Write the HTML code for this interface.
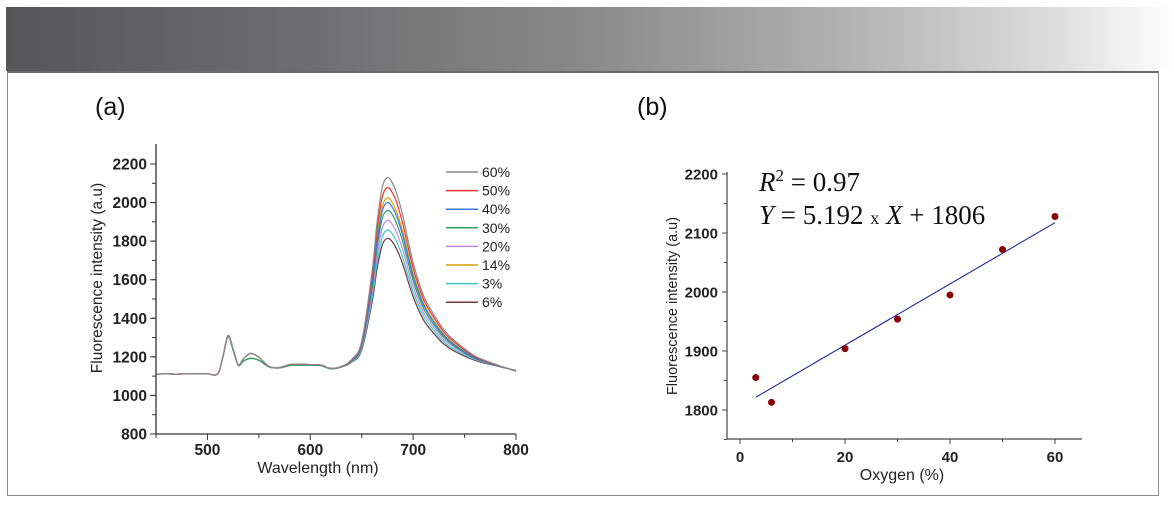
<!DOCTYPE html>
<html><head><meta charset="utf-8"><style>
body{margin:0;background:#fff;width:1174px;height:506px;overflow:hidden;font-family:"Liberation Sans",sans-serif}
#hdr{position:absolute;left:6px;top:7px;width:1168px;height:64px;background:linear-gradient(90deg,#565658 0%,#6d6d6f 25%,#8a8a8a 50%,#b2b2b2 72%,#dddddd 90%,#fff 100%)}
#frame{position:absolute;left:7px;top:71px;width:1150px;height:422px;border:1.5px solid #8a8a8a;border-top:2px solid #6a6a6a}
svg{position:absolute;left:0;top:0}
</style></head><body>
<div id="hdr"></div>
<div id="frame"></div>
<svg id="s" width="1174" height="506"></svg>
<script>
const wlPre=[450,460,470,480,490,500,510,515,520,525,530,535,542,550,560,570,580,590,600,610,620];
const preHigh=[1110,1112,1110,1113,1112,1112,1112,1200,1310,1240,1158,1190,1218,1198,1150,1145,1160,1162,1160,1158,1140];
const preLow=[1110,1112,1110,1113,1112,1112,1112,1200,1305,1235,1156,1178,1192,1182,1148,1143,1155,1157,1156,1155,1138];
const wlPeak=[630,640,650,660,665,670,675,680,685,690,700,710,720,730,740,760,780,800];
const p60=[1150,1185,1280,1640,1900,2080,2130,2100,2030,1930,1690,1520,1420,1340,1285,1205,1162,1125];
const p50=[1149,1183,1273,1614,1860,2030,2078,2049,1983,1888,1661,1500,1405,1328,1276,1201,1160,1126];
const p40=[1149,1179,1262,1575,1800,1957,2000,1974,1913,1827,1618,1470,1380,1310,1262,1195,1158,1127];
const p30=[1148,1177,1256,1554,1769,1918,1960,1935,1877,1794,1595,1453,1368,1301,1256,1192,1157,1128];
const p20=[1148,1175,1249,1528,1730,1869,1908,1885,1831,1753,1566,1432,1354,1290,1248,1189,1156,1128];
const p14=[1149,1180,1265,1587,1819,1980,2025,1998,1936,1846,1633,1480,1387,1316,1266,1197,1159,1127];
const p3=[1147,1173,1242,1503,1691,1822,1858,1836,1785,1713,1538,1412,1338,1278,1238,1186,1155,1129];
const p6=[1147,1171,1235,1481,1658,1781,1815,1795,1747,1679,1512,1392,1322,1266,1230,1182,1154,1130];
const seriesLabels=["60%","50%","40%","30%","20%","14%","3%","6%"];
const seriesColors=["#8a8a8a","#ee3333","#3a78e0","#2e9e5e","#c08ae8","#d4a000","#3cc8c8","#6b3a3a"];
const seriesPeaks=[p60,p50,p40,p30,p20,p14,p3,p6];
const seriesPre=[preHigh,preHigh,preHigh,preLow,preHigh,preHigh,preLow,preLow];
const xTicksA=[500,600,700,800];
const yTicksA=[800,1000,1200,1400,1600,1800,2000,2200];
const oxygen=[3,6,20,30,40,50,60];
const intensity=[1855,1813,1904,1954,1995,2072,2128];
const fitSlope=5.192, fitIntercept=1806;
const xTicksB=[0,20,40,60];
const yTicksB=[1800,1900,2000,2100,2200];

const NS="http://www.w3.org/2000/svg";
const svg=document.getElementById('s');
function mk(t,a,txt){const e=document.createElementNS(NS,t);for(const k in a)e.setAttribute(k,a[k]);if(txt!==undefined)e.textContent=txt;svg.appendChild(e);return e;}
const xa=v=>156+(v-450)*(516-156)/350;
const ya=v=>434-(v-800)*(434-164)/1400;
function spline(pts){let d=`M${pts[0][0]},${pts[0][1]}`;for(let i=0;i<pts.length-1;i++){const p0=pts[Math.max(0,i-1)],p1=pts[i],p2=pts[i+1],p3=pts[Math.min(pts.length-1,i+2)];
const c1=[p1[0]+(p2[0]-p0[0])/6,p1[1]+(p2[1]-p0[1])/6],c2=[p2[0]-(p3[0]-p1[0])/6,p2[1]-(p3[1]-p1[1])/6];
d+=` C${c1[0].toFixed(1)},${c1[1].toFixed(1)} ${c2[0].toFixed(1)},${c2[1].toFixed(1)} ${p2[0].toFixed(1)},${p2[1].toFixed(1)}`;}return d;}
let t=mk('text',{x:95,y:115,'font-size':25,fill:'#111'},'(a)');


for(let s=seriesPeaks.length-1;s>=0;s--){
 const wl=wlPre.concat(wlPeak), vals=seriesPre[s].concat(seriesPeaks[s]);
 const pts=wl.map((w,i)=>[xa(w),ya(vals[i])]);
 const p=mk('path',{d:spline(pts),fill:'none',stroke:seriesColors[s],'stroke-width':1.2});
 
 
}
let ax=mk('path',{d:`M156,144 V434 H516`,fill:'none',stroke:'#333','stroke-width':1.3});


for(let v=900;v<=2200;v+=100){mk('line',{x1:152,x2:156,y1:ya(v),y2:ya(v),stroke:'#333','stroke-width':1});}
yTicksA.forEach(v=>{mk('line',{x1:150,x2:156,y1:ya(v),y2:ya(v),stroke:'#333'});
 const e=mk('text',{x:147,y:ya(v)+5.5,'font-size':15.5,'font-weight':'bold','text-anchor':'end',fill:'#222'},v);
 
 });
for(let v=450;v<=800;v+=50){mk('line',{x1:xa(v),x2:xa(v),y1:434,y2:v%100?438:440,stroke:'#333'});}
xTicksA.forEach(v=>{const e=mk('text',{x:xa(v),y:455,'font-size':15.5,'font-weight':'bold','text-anchor':'middle',fill:'#222'},v);
 
 });
t=mk('text',{x:318,y:473,'font-size':16,'text-anchor':'middle',fill:'#222'},'Wavelength (nm)');


t=mk('text',{x:0,y:0,'font-size':15.5,'text-anchor':'middle',fill:'#222',transform:'translate(102,278) rotate(-90)'},'Fluorescence intensity (a.u)');


seriesLabels.forEach((l,i)=>{const y=172+i*18.6;
 const ln=mk('line',{x1:446,x2:478,y1:y,y2:y,stroke:seriesColors[i],'stroke-width':1.5});
 
 
 const e=mk('text',{x:482,y:y+5,'font-size':14,fill:'#222'},l);
 
 });
const xb=v=>740+v*(1055-740)/60;
const yb=v=>410-(v-1800)*(410-174)/400;
t=mk('text',{x:637,y:115,'font-size':25,fill:'#111'},'(b)');


ax=mk('path',{d:`M727,172 V439 H1082`,fill:'none',stroke:'#444','stroke-width':1.2});


for(let v=1750;v<=2200;v+=50){mk('line',{x1:v%100?724:722,x2:727,y1:yb(v),y2:yb(v),stroke:'#444'});}
yTicksB.forEach(v=>{const e=mk('text',{x:718,y:yb(v)+5.5,'font-size':15,'font-weight':'bold','text-anchor':'end',fill:'#222'},v);
 
 });
for(let v=0;v<=60;v+=10){mk('line',{x1:xb(v),x2:xb(v),y1:439,y2:v%20?442:444,stroke:'#444'});}
xTicksB.forEach(v=>{const e=mk('text',{x:xb(v),y:462,'font-size':15,'font-weight':'bold','text-anchor':'middle',fill:'#222'},v);
 
 });
t=mk('text',{x:902,y:480,'font-size':16,'text-anchor':'middle',fill:'#222'},'Oxygen (%)');


t=mk('text',{x:0,y:0,'font-size':14.5,'text-anchor':'middle',fill:'#222',transform:'translate(677,306) rotate(-90)'},'Fluorescence intensity (a.u)');


const x0=oxygen[0],x1=oxygen[oxygen.length-1];
let fl=mk('line',{x1:xb(x0),y1:yb(fitIntercept+fitSlope*x0),x2:xb(x1),y2:yb(fitIntercept+fitSlope*x1),stroke:'#1a2a9a','stroke-width':1.1});


oxygen.forEach((x,i)=>{const c=mk('circle',{cx:xb(x),cy:yb(intensity[i]),r:3.5,fill:'#8b0000'});
 
 });
t=mk('text',{x:759,y:191,'font-size':27,'font-family':'Liberation Serif,serif',fill:'#111'});
t.innerHTML='<tspan font-style="italic">R</tspan><tspan dy="-10" font-size="17">2</tspan><tspan dy="10"> = 0.97</tspan>';


t=mk('text',{x:759,y:224,'font-size':27,'font-family':'Liberation Serif,serif',fill:'#111'});
t.innerHTML='<tspan font-style="italic">Y</tspan> = 5.192 <tspan font-size="18">x</tspan> <tspan font-style="italic">X</tspan> + 1806';


</script>
</body></html>
